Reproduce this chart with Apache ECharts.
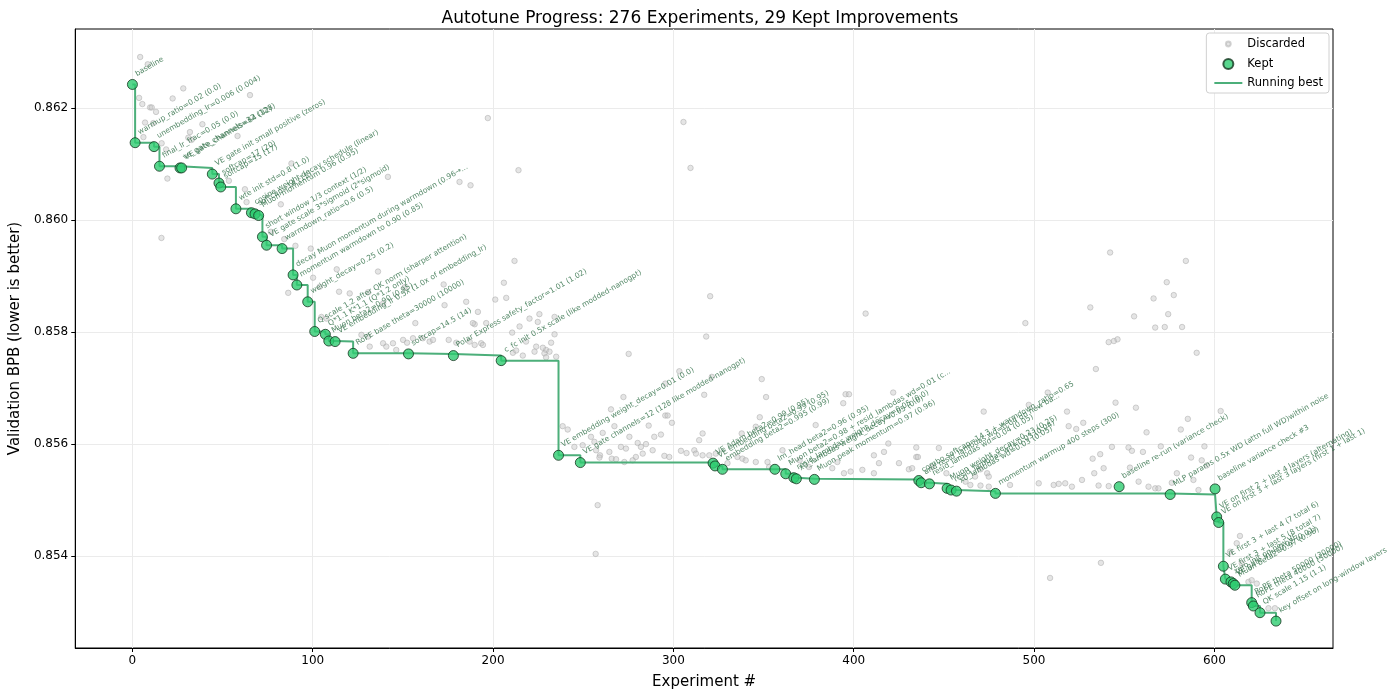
<!DOCTYPE html>
<html>
<head>
<meta charset="utf-8">
<script src="https://cdn.jsdelivr.net/npm/echarts@6/dist/echarts.min.js"></script>
<style>
html,body{margin:0;padding:0;background:#fff;}
#chart{width:1400px;height:698px;}
</style>
</head>
<body>
<div id="chart"></div>
<script>
const titleText = 'Autotune Progress: 276 Experiments, 29 Kept Improvements';
const xTicks = [0, 100, 200, 300, 400, 500, 600];
const yTicks = [0.854, 0.856, 0.858, 0.860, 0.862];

const keptX = [0, 1.5, 12, 15, 26.4, 27.3, 44.3, 48, 49, 57.4, 66, 68, 70, 72.1, 74.4, 83, 89.1, 91.2, 97.2, 101.1,
  107, 108.9, 112.4, 122.4, 153.1, 178, 204.5, 236.3, 248.4, 322, 323.1, 327.2, 356.3, 362.3, 366.8, 368.2, 378.2,
  436.1, 437.4, 442, 451.8, 454, 457, 478.6, 547.2, 575.5, 600.4, 601.3, 602.4, 605, 606.1, 609.2, 610.5, 611.4,
  620.7, 621.6, 625.3, 634.2];
const keptY = [0.86242, 0.86138, 0.86131, 0.86096, 0.86093, 0.86093, 0.86082, 0.86066, 0.86059, 0.86020, 0.86013,
  0.86011, 0.86008, 0.85970, 0.85955, 0.85949, 0.85902, 0.85884, 0.85854, 0.85801, 0.85796, 0.85784, 0.85783,
  0.85762, 0.85761, 0.85758, 0.85749, 0.85580, 0.85567, 0.85566, 0.85561, 0.85555, 0.85555, 0.85547, 0.85540,
  0.85538, 0.85537, 0.85535, 0.85531, 0.85529, 0.85521, 0.85518, 0.85516, 0.85512, 0.85524, 0.85510, 0.85520,
  0.85470, 0.85460, 0.85382, 0.85359, 0.85354, 0.85351, 0.85348, 0.85317, 0.85311, 0.85299, 0.85284];
const keptLabels = [
  'baseline',
  'warmup_ratio=0.02 (0.0)',
  'unembedding_lr=0.006 (0.004)',
  'final_lr_frac=0.05 (0.0)',
  've_gate_channels=32 (128)',
  'VE gate_channels=64 (32)',
  'VE gate init small positive (zeros)',
  'softcap=17 (20)',
  'softcap=15 (17)',
  'wte init std=0.8 (1.0)',
  'cosine weight decay schedule (linear)',
  'softcap=14 (15)',
  'Muon momentum 0.96 (0.95)',
  'short window 1/3 context (1/2)',
  'VE gate scale 3*sigmoid (2*sigmoid)',
  'warmdown_ratio=0.6 (0.5)',
  'decay Muon momentum during warmdown (0.96\u2192...',
  'momentum warmdown to 0.90 (0.85)',
  'weight_decay=0.25 (0.2)',
  'Q scale 1.2 after QK norm (sharper attention)',
  'Q*1.1 K*1.1 (Q*1.2 only)',
  'Muon beta2=0.90 (0.95)',
  'VE embedding_lr 0.5x (1.0x of embedding_lr)',
  'RoPE base theta=30000 (10000)',
  'softcap=14.5 (14)',
  'Polar Express safety_factor=1.01 (1.02)',
  'c_fc init 0.5x scale (like modded-nanogpt)',
  'VE embedding weight_decay=0.01 (0.0)',
  'VE gate channels=12 (128 like modded-nanogpt)',
  'VE Adam beta2=0.99 (0.95)',
  'VE embedding beta2=0.99 (0.95)',
  'embedding beta2=0.995 (0.99)',
  'lm_head beta2=0.96 (0.95)',
  'Muon beta2=0.98 + resid_lambdas wd=0.01 (c...',
  'resid_lambdas weight_decay=0.05 (0.0)',
  'x0_lambdas weight_decay=0.05 (0.0)',
  'Muon peak momentum=0.97 (0.96)',
  'combo softcap=14.3 + warmdown_ratio=0.65',
  'and resid_lambdas wd=0.04 on new ba...',
  'resid_lambdas wd=0.04 (0.05)',
  'Muon weight_decay=0.23 (0.25)',
  'resid_lambdas wd=0.03 (0.04)',
  'x0_lambdas wd=0.03 (0.05)',
  'momentum warmup 400 steps (300)',
  'baseline re-run (variance check)',
  'MLP params 0.5x WD (attn full WD)within noise',
  'baseline variance check #3',
  'VE on first 2 + last 4 layers (alternating)',
  'VE on first 3 + last 3 layers (first 1 + last 1)',
  'VE first 3 + last 4 (7 total 6)',
  'VE first 3 + last 5 (8 total 7)',
  'zero init on new VE',
  'VE gate init=0.02 (0.01)',
  'Muon beta2=0.97 (0.98)',
  'RoPE theta 50000 (30000)',
  'RoPE theta 40000 (50000)',
  'QK scale 1.15 (1.1)',
  'key offset on long-window layers'
];

const discX = [4.3, 8.5, 28.2, 3.7, 22.3, 65.2, 5.5, 9.8, 10.7, 13.1, 7.0, 11.6, 38.8, 31.9, 58.3, 6.1, 31.0, 32.8,
  16.2, 19.4, 62.4, 88.2, 63.3, 82.3, 141.7, 181.4, 187.5, 16.1, 18.7, 53.5, 76.8, 84.2, 98.9, 90.4, 113.3, 136.2,
  100.2, 86.4, 114.6, 120.5, 103.9, 130.7, 151.0, 139.0, 156.9, 173.1, 185.1, 211.9, 206.0, 207.3, 201.2, 191.6,
  196.2, 189.8, 225.7, 220.2, 234.1, 210.6, 104.8, 107.6, 127.0, 130.7, 139.0, 140.8, 144.5, 150.1, 152.3, 155.6,
  161.1, 164.8, 175.4, 179.6, 187.0, 189.8, 131.6, 146.3, 218.3, 223.9, 229.4, 172.6, 188.8, 214.7, 224.8, 234.1,
  193.4, 194.4, 166.7, 232.2, 227.6, 223.0, 228.5, 231.3, 211.0, 212.8, 216.5, 229.4, 235.0,
  275.2, 320.4, 318.2, 406.6, 303.3, 317.1, 321.3, 349.0, 351.4, 347.9, 378.9, 394.2, 395.5, 397.4, 421.9, 472.1,
  272.3, 265.4, 295.5, 296.8, 299.2, 295.5, 316.2, 314.3, 293.1, 289.4, 286.3, 275.6, 267.3, 260.8, 256.2, 241.4,
  238.6, 245.1, 249.7, 259.3, 264.5, 270.9, 273.7, 280.2, 282.0, 284.8, 279.2, 283.0, 288.5, 297.7, 304.2, 307.3,
  311.6, 312.5, 316.2, 319.9, 337.9, 345.7, 335.5, 338.3, 340.1, 345.7, 352.2, 360.5, 353.1, 370.0, 375.2, 390.9,
  388.1, 398.3, 404.8, 411.2, 411.2, 414.0, 419.2, 416.8, 425.1, 430.6, 432.4, 434.7, 435.6, 443.5, 447.2, 451.4,
  470.3, 474.0, 467.3, 474.9, 394.6, 330.0, 254.3, 257.1, 259.0, 265.8, 268.2, 272.8, 277.4, 323.5, 295.0,
  256.9, 258.0, 197.1, 305.6, 309.5, 214.1,
  542.2, 584.2, 573.6, 566.3, 577.5, 531.2, 555.5, 574.4, 495.2, 567.2, 572.5, 582.1, 541.4, 544.3, 546.3, 590.2,
  534.3, 507.6, 545.2, 556.5, 497.1, 518.3, 585.3, 527.3, 519.2, 523.4, 562.4, 581.4, 603.5, 434.7, 543.2, 552.4,
  554.3, 570.3, 594.5, 532.5, 536.7, 538.6, 533.4, 553.2, 560.4, 579.2, 587.1, 502.6, 510.9, 513.7, 517.3, 521.0,
  526.6, 535.8, 541.4, 558.0, 563.5, 567.2, 591.2, 474.9, 470.3, 464.7, 462.0, 486.7, 508.9, 537.1, 593.0, 595.8,
  588.4, 576.4, 569.0, 614.2, 612.4, 608.7, 615.2, 618.9, 620.7, 623.5, 630.0, 633.6];
const discY = [0.86291, 0.86278, 0.86235, 0.86218, 0.86217, 0.86223, 0.86207, 0.86201, 0.86201, 0.86193, 0.86174,
  0.86173, 0.86171, 0.86157, 0.86150, 0.86148, 0.86147, 0.86143, 0.86137, 0.86074, 0.86055, 0.86101, 0.86032,
  0.86028, 0.86077, 0.86068, 0.86062, 0.85968, 0.86126, 0.86070, 0.85979, 0.85966, 0.85949, 0.85954, 0.85912,
  0.85908, 0.85897, 0.85870, 0.85872, 0.85869, 0.85881, 0.85871, 0.85880, 0.85851, 0.85816, 0.85848, 0.85854,
  0.85927, 0.85888, 0.85861, 0.85858, 0.85836, 0.85816, 0.85814, 0.85832, 0.85824, 0.85827, 0.85799, 0.85827,
  0.85824, 0.85795, 0.85792, 0.85780, 0.85774, 0.85780, 0.85786, 0.85781, 0.85789, 0.85789, 0.85783, 0.85786,
  0.85781, 0.85783, 0.85777, 0.85774, 0.85768, 0.85783, 0.85774, 0.85768, 0.85885, 0.85816, 0.85810, 0.85818,
  0.85796, 0.85780, 0.85777, 0.85786, 0.85781, 0.85772, 0.85765, 0.85762, 0.85765, 0.85763, 0.85767, 0.85758,
  0.85755, 0.85756,
  0.85761, 0.85864, 0.85792, 0.85833, 0.85730, 0.85688, 0.85720, 0.85716, 0.85684, 0.85648, 0.85634, 0.85673,
  0.85689, 0.85689, 0.85692, 0.85658, 0.85684, 0.85662, 0.85651, 0.85651, 0.85638, 0.85708, 0.85619, 0.85607,
  0.85617, 0.85613, 0.85633, 0.85613, 0.85632, 0.85620, 0.85604, 0.85626, 0.85632, 0.85595, 0.85598, 0.85580,
  0.85586, 0.85595, 0.85592, 0.85602, 0.85595, 0.85600, 0.85577, 0.85583, 0.85589, 0.85577, 0.85588, 0.85584,
  0.85589, 0.85583, 0.85580, 0.85580, 0.85619, 0.85631, 0.85577, 0.85574, 0.85571, 0.85568, 0.85568, 0.85589,
  0.85559, 0.85571, 0.85559, 0.85568, 0.85557, 0.85551, 0.85554, 0.85548, 0.85580, 0.85566, 0.85601, 0.85586,
  0.85566, 0.85555, 0.85557, 0.85577, 0.85577, 0.85559, 0.85593, 0.85548, 0.85555, 0.85548, 0.85542, 0.85542,
  0.85548, 0.85566, 0.85613, 0.85589, 0.85576, 0.85574, 0.85573, 0.85568, 0.85571, 0.85583, 0.85579,
  0.85404, 0.85491, 0.86182, 0.86175, 0.86093, 0.86089,
  0.85942, 0.85927, 0.85889, 0.85860, 0.85866, 0.85844, 0.85828, 0.85832, 0.85816, 0.85808, 0.85809, 0.85809,
  0.85782, 0.85784, 0.85787, 0.85763, 0.85734, 0.85692, 0.85674, 0.85665, 0.85670, 0.85658, 0.85645, 0.85638,
  0.85632, 0.85627, 0.85621, 0.85626, 0.85659, 0.85594, 0.85595, 0.85594, 0.85588, 0.85596, 0.85596, 0.85574,
  0.85582, 0.85557, 0.85548, 0.85558, 0.85586, 0.85548, 0.85576, 0.85530, 0.85527, 0.85529, 0.85530, 0.85524,
  0.85536, 0.85526, 0.85525, 0.85533, 0.85524, 0.85521, 0.85518, 0.85524, 0.85526, 0.85527, 0.85533, 0.85527,
  0.85361, 0.85388, 0.85571, 0.85562, 0.85536, 0.85531, 0.85521, 0.85436, 0.85423, 0.85408, 0.85387, 0.85354,
  0.85357, 0.85351, 0.85307, 0.85307];

// derived
const keptData = keptX.map((x, i) => [x, keptY[i]]);
const discData = discX.map((x, i) => [x, discY[i]]);
let best = Infinity;
const bestData = keptX.map((x, i) => { best = Math.min(best, keptY[i]); return [x, best]; });

const FONT = 'DejaVu Sans';
const chart = echarts.init(document.getElementById('chart'), null, {renderer: 'canvas'});
chart.setOption({
  animation: false,
  backgroundColor: '#fff',
  textStyle: {fontFamily: FONT},
  title: {
    text: titleText, left: 'center', top: 5,
    textStyle: {fontFamily: FONT, fontSize: 17, fontWeight: 'normal', color: '#000'}
  },
  grid: {left: 72, right: 67, top: 29, bottom: 50, show: true, borderColor: '#000', borderWidth: 1, containLabel: false},
  legend: {
    orient: 'vertical', right: 71, top: 33,
    backgroundColor: '#fff', borderColor: '#d0d0d0', borderWidth: 1, borderRadius: 3,
    padding: [4, 6, 4, 7], itemGap: 6, itemWidth: 28, itemHeight: 12,
    textStyle: {fontFamily: FONT, fontSize: 11.5, color: '#000'},
    data: [
      {name: 'Discarded', icon: 'path://M0,0L0,0M28,12L28,12M14,3.6A2.4,2.4 0 1 1 13.99,3.6Z'},
      {name: 'Kept', icon: 'path://M0,0L0,0M28,12L28,12M14,1A5,5 0 1 1 13.99,1Z'},
      {name: 'Running best', icon: 'path://M0,0L0,0M28,12L28,12M0,5L28,5L28,7L0,7Z'}
    ]
  },
  xAxis: {
    type: 'value', min: -31.7, max: 665.8,
    name: 'Experiment #', nameLocation: 'middle', nameGap: 27,
    nameTextStyle: {fontFamily: FONT, fontSize: 15, color: '#000'},
    axisLine: {show: true, onZero: false, lineStyle: {color: '#000', width: 1}},
    axisTick: {show: true, length: 4, lineStyle: {color: '#000'}, customValues: xTicks},
    axisLabel: {color: '#000', fontSize: 12, fontFamily: FONT, margin: 7, customValues: xTicks},
    splitLine: {show: true, lineStyle: {color: '#ebebeb', width: 1}}
  },
  yAxis: {
    type: 'value', min: 0.85236, max: 0.86341,
    name: 'Validation BPB (lower is better)', nameLocation: 'middle', nameGap: 52,
    nameTextStyle: {fontFamily: FONT, fontSize: 15, color: '#000'},
    axisLine: {show: true, onZero: false, lineStyle: {color: '#000', width: 1}},
    axisTick: {show: true, length: 4, lineStyle: {color: '#000'}, customValues: yTicks},
    axisLabel: {color: '#000', fontSize: 12, fontFamily: FONT, margin: 7, customValues: yTicks,
      formatter: v => v.toFixed(3)},
    splitLine: {show: true, lineStyle: {color: '#ebebeb', width: 1}}
  },
  series: [
    {
      name: 'Discarded', type: 'scatter', data: discData, symbolSize: 5.5, z: 1,
      itemStyle: {color: 'rgba(200,200,200,0.6)', borderColor: 'rgba(165,165,165,0.6)', borderWidth: 1}
    },
    {
      name: 'Running best', type: 'line', data: bestData, step: 'end', symbol: 'none', z: 2,
      lineStyle: {color: '#4caf7a', width: 2},
      itemStyle: {color: '#4caf7a'}
    },
    {
      name: 'Kept', type: 'scatter', data: keptData, symbolSize: 10, z: 3,
      itemStyle: {color: '#2ecc71', borderColor: '#14361f', borderWidth: 1},
      label: {
        show: true, position: [11, -1], align: 'left', verticalAlign: 'bottom', rotate: 30,
        fontFamily: FONT, fontSize: 7.5, color: '#2a6b42',
        formatter: p => keptLabels[p.dataIndex]
      }
    }
  ]
});
</script>
</body>
</html>
